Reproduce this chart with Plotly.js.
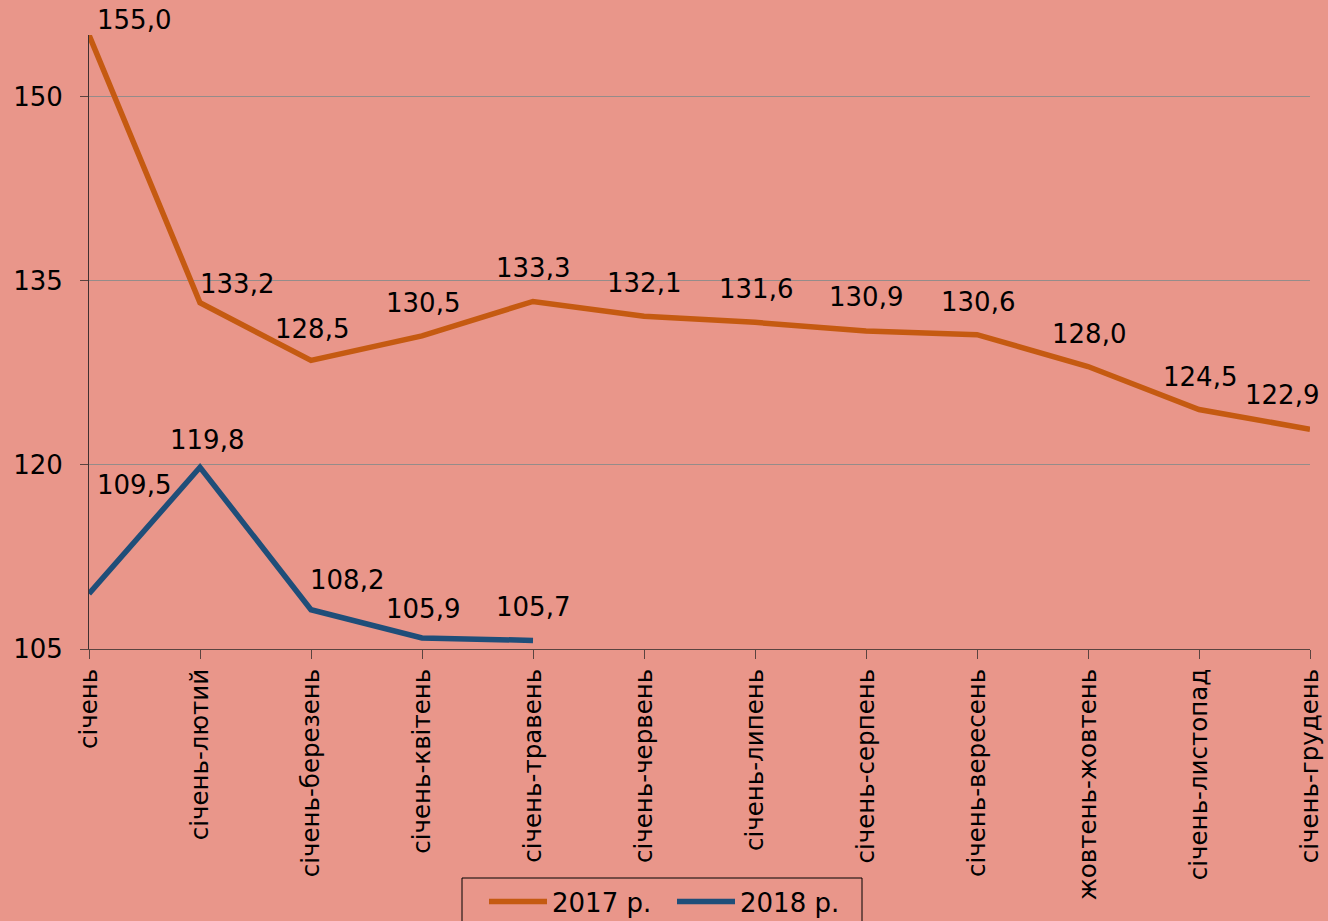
<!DOCTYPE html>
<html>
<head>
<meta charset="utf-8">
<script src="https://cdn.plot.ly/plotly-3.0.1.min.js"></script>
<style>
html,body{margin:0;padding:0;background:#E9968A;}
#chart{width:1328px;height:921px;}
</style>
</head>
<body>
<div id="chart"></div>
<script>
// ---- data ----
const categories = ["січень","січень-лютий","січень-березень","січень-квітень","січень-травень","січень-червень","січень-липень","січень-серпень","січень-вересень","жовтень-жовтень","січень-листопад","січень-грудень"];
const series2017 = [155.0,133.2,128.5,130.5,133.3,132.1,131.6,130.9,130.6,128.0,124.5,122.9];
const series2018 = [109.5,119.8,108.2,105.9,105.7];
const seriesNames = ["2017 р.","2018 р."];
const yTicks = [105,120,135,150];

// ---- label offsets (styling, px) ----
const off2017 = [[45,15],[37,19],[1,31],[1,33],[0,33],[0,33],[1,33],[0,34],[1,33],[1,33],[1,33],[-28,34]];
const off2018 = [[45,109],[7,27],[36,30],[1,29],[0,33]];

const fmt = v => v.toFixed(1).replace('.', ',');
const FONT = "DejaVu Sans, Verdana, sans-serif";
const FS = 26;
const XFS = 24.5;
const colors = ["#C55A11","#1F4E79"];

const annotations = [];
function addLabels(vals, offs){
  vals.forEach((v,i)=>{
    annotations.push({
      x: categories[i], y: v, xref:'x', yref:'y', text: fmt(v), showarrow:false,
      xanchor:'center', yanchor:'middle', xshift: offs[i][0], yshift: offs[i][1],
      font:{family:FONT,size:FS,color:'#000'}
    });
  });
}
addLabels(series2017, off2017);
addLabels(series2018, off2018);

const traces = [
  {x: categories, y: series2017, name: seriesNames[0], type:'scatter', mode:'lines',
   line:{color:colors[0], width:5.5}},
  {x: categories.slice(0, series2018.length), y: series2018, name: seriesNames[1], type:'scatter', mode:'lines',
   line:{color:colors[1], width:5.5}}
];

// legend frame in pixel geometry -> paper coords
const PL = 89, PR = 1310, PT = 35, PB = 649;
const px2x = p => (p - PL) / (PR - PL);
const py2y = p => (PB - p) / (PB - PT);

const layout = {
  width:1328, height:921,
  paper_bgcolor:'#E9968A', plot_bgcolor:'#E9968A',
  margin:{l:PL, r:1328-PR, t:PT, b:921-PB, pad:0, autoexpand:false},
  font:{family:FONT, size:FS, color:'#000'},
  showlegend:true,
  legend:{orientation:'h', xref:'container', yref:'container',
    x:484/1328, y:(921-878)/921, xanchor:'left', yanchor:'top',
    borderwidth:0, bgcolor:'rgba(0,0,0,0)',
    itemwidth:58, entrywidth:115, entrywidthmode:'pixels',
    font:{family:FONT,size:FS,color:'#000'}},
  shapes:[{type:'rect', xref:'paper', yref:'paper',
    x0:px2x(462), x1:px2x(862), y0:py2y(878), y1:py2y(940),
    line:{color:'#000', width:1}, fillcolor:'rgba(0,0,0,0)', layer:'above'}],
  xaxis:{type:'category', categoryorder:'array', categoryarray:categories,
    range:[0,11], showgrid:false, zeroline:false, automargin:false,
    showline:true, linecolor:'#5A4440', linewidth:1,
    ticks:'outside', ticklen:9, tickcolor:'#5A4440', tickangle:-90,
    tickfont:{family:FONT,size:XFS,color:'#000'}},
  yaxis:{range:[105,155], tickvals:yTicks, ticktext:yTicks.map(String),
    showgrid:true, gridcolor:'#958C8A', gridwidth:1, zeroline:false, automargin:false,
    showline:true, linecolor:'#403030', linewidth:1,
    ticks:'outside', ticklen:8, tickcolor:'#5A4440', ticklabelstandoff:12,
    tickfont:{family:FONT,size:FS,color:'#000'}},
  annotations: annotations
};

Plotly.newPlot('chart', traces, layout, {displayModeBar:false, staticPlot:true});
</script>
</body>
</html>
